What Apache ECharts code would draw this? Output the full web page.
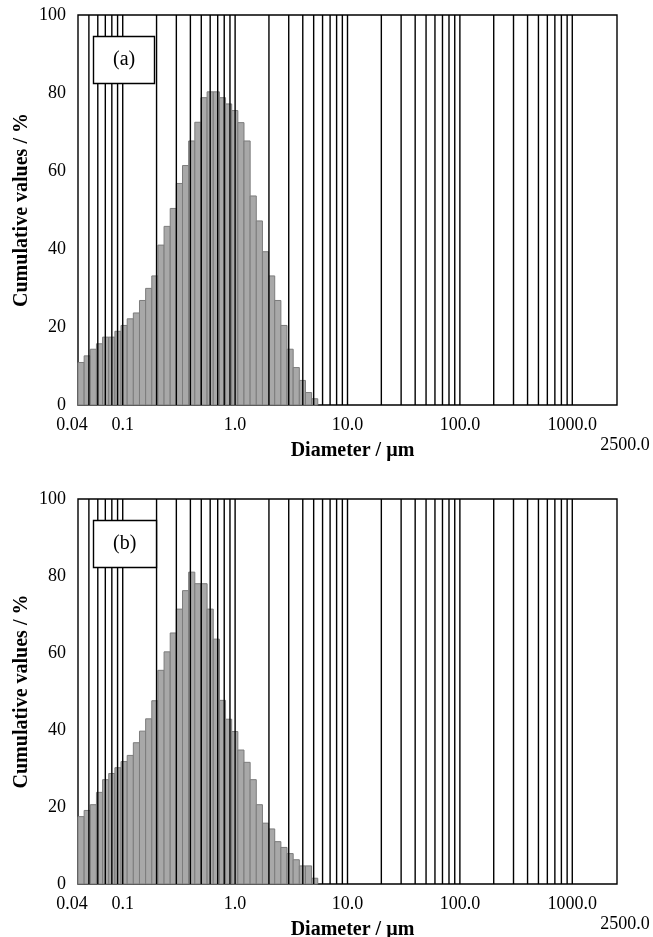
<!DOCTYPE html>
<html>
<head>
<meta charset="utf-8">
<script src="https://cdn.jsdelivr.net/npm/echarts@6/dist/echarts.min.js"></script>
<style>
  html, body { margin: 0; padding: 0; background: #fff; }
  #chart { width: 653px; height: 937px; }
</style>
</head>
<body>
<div id="chart"></div>
<script>
// bin edges of the size classes (µm)
const binEdges = [
  0.0400, 0.04537, 0.05146, 0.05837, 0.0662, 0.07509, 0.08518, 0.09661,
  0.1096, 0.1243, 0.141, 0.1599, 0.1814, 0.2057, 0.2333, 0.2646, 0.3001,
  0.3404, 0.3861, 0.438, 0.4968, 0.5634, 0.6391, 0.7249, 0.8222, 0.9324,
  1.0576, 1.1995, 1.3606, 1.5432, 1.7504, 1.9854, 2.2519, 2.5542, 2.8971,
  3.286, 3.7272, 4.2267, 4.7942, 5.4378
];

// panel (a) cumulative values / %
const valuesA = [
  10.9, 12.6, 14.3, 15.7, 17.4, 17.4, 18.9, 20.4, 22.1, 23.6, 26.8, 29.9,
  33.1, 41.0, 45.8, 50.4, 56.8, 61.4, 67.7, 72.5, 78.8, 80.3, 80.3, 78.8,
  77.2, 75.5, 72.4, 67.7, 53.6, 47.2, 39.3, 33.1, 26.8, 20.4, 14.3, 9.6,
  6.3, 3.2, 1.6
];

// panel (b) cumulative values / %
const valuesB = [
  17.5, 19.1, 20.6, 23.8, 27.1, 28.7, 30.2, 31.8, 33.4, 36.7, 39.7, 42.9,
  47.6, 55.5, 60.3, 65.2, 71.4, 76.2, 81.0, 78.0, 78.0, 71.4, 63.6, 47.7,
  42.8, 39.6, 34.8, 31.6, 27.1, 20.6, 15.8, 14.3, 11.0, 9.5, 7.9, 6.3,
  4.7, 4.7, 1.5
];

// vertical grid lines on the log axis
const gridValues = [
  0.05, 0.06, 0.07, 0.08, 0.09, 0.1,
  0.2, 0.3, 0.4, 0.5, 0.6, 0.7, 0.8, 0.9, 1,
  2, 3, 4, 5, 6, 7, 8, 9, 10,
  20, 30, 40, 50, 60, 70, 80, 90, 100,
  200, 300, 400, 500, 600, 700, 800, 900, 1000
];

const tickValues = [0.04, 0.1, 1, 10, 100, 1000, 2500];
const tickLabels = ['0.04', '0.1', '1.0', '10.0', '100.0', '1000.0', '2500.0'];
const panelLabels = ['(a)', '(b)'];

const serif = "'Liberation Serif', 'Times New Roman', serif";

const chart = echarts.init(document.getElementById('chart'));

const formatTick = value => {
  const i = tickValues.findIndex(
    t => Math.abs(Math.log10(t) - Math.log10(value)) < 0.01
  );
  if (i < 0) return '';
  if (i === 0) return '{first|' + tickLabels[i] + '}';
  if (i === tickValues.length - 1) return '{low|' + tickLabels[i] + '}';
  return tickLabels[i];
};

const renderBar = (params, api) => {
  const topLeft = api.coord([api.value(0), api.value(2)]);
  const bottomRight = api.coord([api.value(1), 0]);
  return {
    type: 'rect',
    shape: {
      x: topLeft[0],
      y: topLeft[1],
      width: bottomRight[0] - topLeft[0],
      height: bottomRight[1] - topLeft[1]
    },
    style: { fill: '#a8a8a8', stroke: '#7c7c7c', lineWidth: 1 }
  };
};

const renderGridLine = (params, api) => {
  const top = api.coord([api.value(0), 100]);
  const bottom = api.coord([api.value(0), 0]);
  return {
    type: 'line',
    shape: { x1: top[0], y1: top[1], x2: bottom[0], y2: bottom[1] },
    style: { stroke: '#000', lineWidth: 1.4 }
  };
};

const grids = [
  { left: 78, right: 36, top: 15, height: 390 },
  { left: 78, right: 36, top: 499, height: 385 }
].map(g => ({
  ...g,
  show: true,
  borderColor: '#000',
  borderWidth: 1.4,
  containLabel: false,
  outerBoundsMode: 'none'
}));

const labelFont = { fontFamily: serif, fontSize: 18, color: '#000' };

const xAxes = grids.map((g, i) => ({
  type: 'log',
  gridIndex: i,
  logBase: 10,
  min: 0.04,
  max: 2500,
  name: 'Diameter / µm',
  nameLocation: 'middle',
  nameGap: 36,
  nameMoveOverlap: false,
  nameTextStyle: {
    fontFamily: serif,
    fontSize: 20,
    fontWeight: 'bold',
    color: '#000',
    padding: [0, 0, 0, 10]
  },
  axisLine: { show: false },
  axisTick: { show: false },
  splitLine: { show: false },
  axisLabel: {
    show: true,
    showMinLabel: true,
    showMaxLabel: true,
    margin: 11,
    ...labelFont,
    formatter: formatTick,
    rich: {
      first: { ...labelFont, padding: [0, 12, 0, 0] },
      low: { ...labelFont, padding: [20, 0, 0, 16] }
    }
  }
}));

const yAxes = grids.map((g, i) => ({
  type: 'value',
  gridIndex: i,
  min: 0,
  max: 100,
  interval: 20,
  name: 'Cumulative values / %',
  nameLocation: 'middle',
  nameGap: 46,
  nameMoveOverlap: false,
  nameRotate: 90,
  nameTextStyle: {
    fontFamily: serif,
    fontSize: 20,
    fontWeight: 'bold',
    color: '#000'
  },
  axisLine: { show: false },
  axisTick: { show: false },
  splitLine: { show: false },
  axisLabel: { margin: 12, ...labelFont }
}));

let series = [];
[valuesA, valuesB].forEach((values, i) => {
  series.push({
    type: 'custom',
    xAxisIndex: i,
    yAxisIndex: i,
    z: 2,
    renderItem: renderBar,
    encode: { x: [0, 1], y: 2 },
    data: values.map((v, k) => [binEdges[k], binEdges[k + 1], v]),
    silent: true
  });
  series.push({
    type: 'custom',
    xAxisIndex: i,
    yAxisIndex: i,
    z: 3,
    renderItem: renderGridLine,
    encode: { x: 0, y: 1 },
    data: gridValues.map(v => [v, 0]),
    silent: true
  });
});

const titles = panelLabels.map((label, i) => ({
  text: label,
  left: 93,
  top: i === 0 ? 36 : 520,
  padding: [14, 20, 14, 20],
  backgroundColor: '#fff',
  borderColor: '#000',
  borderWidth: 1.4,
  textStyle: {
    fontFamily: serif,
    fontSize: 20,
    fontWeight: 'normal',
    color: '#000'
  },
  z: 10
}));

let option = {
  animation: false,
  backgroundColor: '#fff',
  title: titles,
  grid: grids,
  xAxis: xAxes,
  yAxis: yAxes,
  series
};

chart.setOption(option);
</script>
</body>
</html>
